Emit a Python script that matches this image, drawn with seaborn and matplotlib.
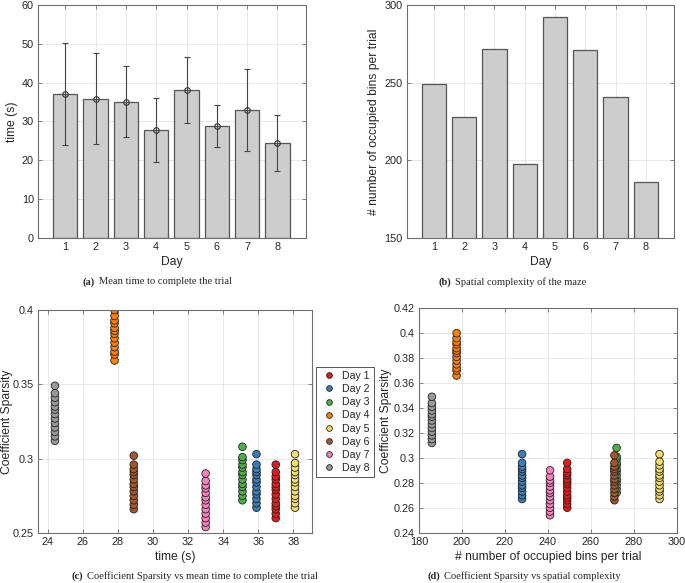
import numpy as np
import pandas as pd
import matplotlib
matplotlib.use('Agg')
import matplotlib.pyplot as plt
import seaborn as sns
from matplotlib.ticker import FuncFormatter

# ----------------------------------------------------------------------------
# data
# ----------------------------------------------------------------------------
days = [1, 2, 3, 4, 5, 6, 7, 8]
day_labels = ['Day 1', 'Day 2', 'Day 3', 'Day 4', 'Day 5', 'Day 6', 'Day 7', 'Day 8']

mean_time = [37.0, 35.9, 35.1, 27.8, 38.1, 28.9, 33.0, 24.4]
std_time = [13.1, 11.7, 9.1, 8.2, 8.6, 5.4, 10.5, 7.2]

occupied_bins = [249, 228, 272, 197.5, 292, 271, 241, 186]

sparsity_day1 = [0.260, 0.263, 0.266, 0.268, 0.270, 0.273, 0.276, 0.279, 0.281, 0.283, 0.286, 0.288, 0.291, 0.296]
sparsity_day2 = [0.267, 0.270, 0.273, 0.276, 0.278, 0.281, 0.284, 0.286, 0.289, 0.291, 0.293, 0.296, 0.303]
sparsity_day3 = [0.272, 0.275, 0.278, 0.281, 0.283, 0.286, 0.289, 0.291, 0.294, 0.296, 0.299, 0.301, 0.308]
sparsity_day4 = [0.366, 0.370, 0.372, 0.375, 0.378, 0.381, 0.384, 0.386, 0.388, 0.391, 0.393, 0.396, 0.400]
sparsity_day5 = [0.267, 0.270, 0.273, 0.275, 0.278, 0.281, 0.284, 0.286, 0.289, 0.291, 0.294, 0.297, 0.303]
sparsity_day6 = [0.266, 0.269, 0.272, 0.275, 0.278, 0.281, 0.283, 0.286, 0.289, 0.291, 0.293, 0.296, 0.302]
sparsity_day7 = [0.254, 0.257, 0.260, 0.263, 0.266, 0.269, 0.272, 0.274, 0.277, 0.280, 0.282, 0.285, 0.290]
sparsity_day8 = [0.312, 0.315, 0.318, 0.321, 0.324, 0.327, 0.330, 0.333, 0.335, 0.338, 0.341, 0.344, 0.349]

sparsity = [sparsity_day1, sparsity_day2, sparsity_day3, sparsity_day4,
            sparsity_day5, sparsity_day6, sparsity_day7, sparsity_day8]

day_colors = ['#e41a1c', '#377eb8', '#4daf4a', '#ff7f00',
              '#f3dc68', '#a65628', '#f781bf', '#999999']

# long table for the scatter panels
rows = []
for lab, t, b, vals in zip(day_labels, mean_time, occupied_bins, sparsity):
    for v in vals:
        rows.append({'Day': lab, 'time': t, 'bins': b, 'sparsity': v})
scatter_df = pd.DataFrame(rows)

# ----------------------------------------------------------------------------
# style
# ----------------------------------------------------------------------------
sns.set_theme(style='whitegrid')
plt.rcParams['font.family'] = ['Liberation Sans', 'DejaVu Sans']
plt.rcParams['xtick.labelcolor'] = '#262626'
plt.rcParams['ytick.labelcolor'] = '#262626'

TICK_FS = 7.8
LABEL_FS = 8.7
CAP_FS = 7.6
BAR_FACE = '#cdcdcd'
BAR_EDGE = '#555555'
SERIF = ['Liberation Serif', 'DejaVu Serif']

fig = plt.figure(figsize=(6.85, 5.83), dpi=100)
ax_a = fig.add_axes([0.0555, 0.5918, 0.3912, 0.3996])
ax_b = fig.add_axes([0.5937, 0.5918, 0.3907, 0.3996])
ax_c = fig.add_axes([0.0559, 0.0858, 0.3991, 0.3825])
ax_d = fig.add_axes([0.6117, 0.0863, 0.3762, 0.3850])


def matlab_box(ax):
    for s in ax.spines.values():
        s.set_visible(True)
        s.set_color('#6e6e6e')
        s.set_linewidth(0.8)
    ax.tick_params(direction='in', length=3, width=0.6, labelsize=TICK_FS, color='#6e6e6e',
                   top=True, right=True, bottom=True, left=True, pad=3)
    ax.grid(True, color='#e4e4e4', linewidth=0.6)
    ax.set_axisbelow(True)
    ax.yaxis.set_major_formatter(FuncFormatter(lambda v, p: f'{v:g}'))


# (a) mean time per day
sns.barplot(x=days, y=mean_time, color=BAR_FACE, edgecolor=BAR_EDGE,
            linewidth=0.9, width=0.8, saturation=1, ax=ax_a)
ax_a.errorbar(np.arange(len(days)), mean_time, yerr=std_time, fmt='o',
              mfc='none', mec='#333333', ms=4, mew=0.8,
              ecolor='#444444', elinewidth=0.8, capsize=2.5, capthick=0.8)
ax_a.set_xlim(-0.9, 7.94)
ax_a.set_ylim(0, 60)
ax_a.set_yticks([0, 10, 20, 30, 40, 50, 60])
ax_a.set_xlabel('Day', fontsize=LABEL_FS, labelpad=3)
ax_a.set_ylabel('time (s)', fontsize=LABEL_FS, labelpad=3)
matlab_box(ax_a)

# (b) occupied bins per day
sns.barplot(x=days, y=occupied_bins, color=BAR_FACE, edgecolor=BAR_EDGE,
            linewidth=0.9, width=0.8, saturation=1, ax=ax_b)
ax_b.set_xlim(-0.9, 7.94)
ax_b.set_ylim(150, 300)
ax_b.set_yticks([150, 200, 250, 300])
ax_b.set_xlabel('Day', fontsize=LABEL_FS, labelpad=3)
ax_b.set_ylabel('# number of occupied bins per trial', fontsize=LABEL_FS, labelpad=3)
matlab_box(ax_b)

# (c) sparsity vs mean time
sns.scatterplot(data=scatter_df, x='time', y='sparsity', hue='Day',
                hue_order=day_labels, palette=day_colors, s=30,
                edgecolor='#222222', linewidth=0.6, alpha=1, ax=ax_c)
handles, labels = ax_c.get_legend_handles_labels()
ax_c.legend_.remove()
ax_c.set_xlim(23.45, 39.05)
ax_c.set_ylim(0.25, 0.4)
ax_c.set_xticks(np.arange(24, 39, 2))
ax_c.set_yticks([0.25, 0.3, 0.35, 0.4])
ax_c.set_xlabel('time (s)', fontsize=LABEL_FS, labelpad=3)
ax_c.set_ylabel('Coefficient Sparsity', fontsize=LABEL_FS)
ax_c.yaxis.set_label_coords((13 - 38.3) / 273.4, 0.5)
matlab_box(ax_c)

# (d) sparsity vs spatial complexity
sns.scatterplot(data=scatter_df, x='bins', y='sparsity', hue='Day',
                hue_order=day_labels, palette=day_colors, s=30,
                edgecolor='#222222', linewidth=0.6, alpha=1, legend=False, ax=ax_d)
ax_d.set_xlim(180, 300)
ax_d.set_ylim(0.24, 0.42)
ax_d.set_xticks(np.arange(180, 301, 20))
ax_d.set_yticks(np.arange(0.24, 0.4201, 0.02))
ax_d.set_xlabel('# number of occupied bins per trial', fontsize=LABEL_FS, labelpad=3)
ax_d.set_ylabel('Coefficient Sparsity', fontsize=LABEL_FS)
ax_d.yaxis.set_label_coords((392 - 419) / 257.7, 0.5)
matlab_box(ax_d)

# shared legend between (c) and (d)
leg = fig.legend(handles, labels, loc='center', bbox_to_anchor=(345 / 685, 1 - 422 / 583),
                 fontsize=7.6, frameon=True, fancybox=False, framealpha=1,
                 edgecolor='#555555', handletextpad=0.4, labelspacing=0.3,
                 borderpad=0.35, handlelength=1.7, markerscale=0.75)
leg.get_frame().set_linewidth(0.7)

# captions: bold tag + regular serif text, centred on the reference positions
captions = [
    (157.0, 282, '(a)', 'Mean time to complete the trial'),
    (512.7, 282, '(b)', 'Spatial complexity of the maze'),
    (194.5, 576, '(c)', 'Coefficient Sparsity vs mean time to complete the trial'),
    (524.2, 576, '(d)', 'Coefficient Sparsity vs spatial complexity'),
]
renderer = fig.canvas.get_renderer()
for cx, cy, tag, txt in captions:
    t1 = fig.text(0, 1 - cy / 583, tag, ha='left', va='center', fontsize=CAP_FS,
                  fontweight='bold', family=SERIF)
    t2 = fig.text(0, 1 - cy / 583, txt, ha='left', va='center', fontsize=CAP_FS,
                  family=SERIF)
    w1 = t1.get_window_extent(renderer).width
    w2 = t2.get_window_extent(renderer).width
    gap = 4.0
    x0 = cx - (w1 + gap + w2) / 2
    t1.set_x(x0 / 685)
    t2.set_x((x0 + w1 + gap) / 685)

fig.savefig('out.png', dpi=100)
